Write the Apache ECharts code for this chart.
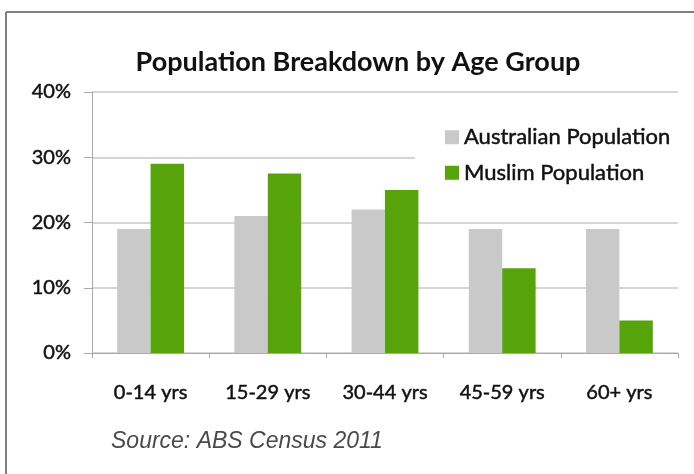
<!DOCTYPE html>
<html><head><meta charset="utf-8">
<script src="https://cdn.jsdelivr.net/npm/echarts@6/dist/echarts.min.js"></script>
<style>html,body{margin:0;padding:0;background:#fff}#c{width:694px;height:474px}</style>
</head><body><div id="c"></div>
<script>
const categories = ['0-14 yrs','15-29 yrs','30-44 yrs','45-59 yrs','60+ yrs'];
const australian = [19, 21, 22, 19, 19];
const muslim = [29, 27.5, 25, 13, 5];
const yTicks = [0, 10, 20, 30, 40];
const titleText = 'Population Breakdown by Age Group';
const sourceText = 'Source: ABS Census 2011';
const seriesNames = ['Australian Population', 'Muslim Population'];

const font = 'Lato';
const thick = {textBorderColor:'#1a1a1a', textBorderWidth:0.5};
const chart = echarts.init(document.getElementById('c'), null, {renderer:'canvas'});
chart.setOption({
  animation:false,
  backgroundColor:'#fff',
  title:{text:titleText, left:353, top:44, textAlign:'center',
    textStyle:{fontFamily:font, fontWeight:'bold', fontSize:27, color:'#111'}},
  graphic:[
    {type:'line', shape:{x1:6, y1:12, x2:694, y2:12}, style:{stroke:'#7d8087', lineWidth:2}},
    {type:'line', shape:{x1:6, y1:12, x2:6, y2:474}, style:{stroke:'#7d8087', lineWidth:2}},
    {type:'text', left:111, top:430, style:{text:sourceText, fontFamily:'Liberation Sans', fontStyle:'italic', fontSize:23, fill:'#4a4a4a'}}
  ],
  legend:{orient:'vertical', left:415, top:122, itemWidth:14, itemHeight:14, itemGap:13,
    backgroundColor:'#fff', padding:[4,10,4,30],
    textStyle:Object.assign({fontFamily:font, fontSize:22, color:'#111'}, thick),
    icon:'rect', data:seriesNames},
  grid:{left:92, right:16, top:92, bottom:121},
  xAxis:{type:'category', data:categories,
    axisLine:{lineStyle:{color:'#aaa'}},
    axisTick:{show:true, length:5, lineStyle:{color:'#aaa'}},
    axisLabel:Object.assign({fontFamily:font, fontSize:20, color:'#111', margin:30}, thick)},
  yAxis:{type:'value', min:yTicks[0], max:yTicks[yTicks.length-1], interval:10,
    axisLine:{show:true, lineStyle:{color:'#aaa'}},
    axisTick:{show:true, length:8, lineStyle:{color:'#aaa'}},
    splitLine:{lineStyle:{color:'#c8c8c8', width:1.5}},
    axisLabel:Object.assign({fontFamily:font, fontSize:20, color:'#111', margin:21,
      formatter:v=>v+'%'}, thick)},
  series:[
    {name:seriesNames[0], type:'bar', data:australian, barGap:'0%', barCategoryGap:'43%',
     itemStyle:{color:'#c9c9c9'}},
    {name:seriesNames[1], type:'bar', data:muslim, barGap:'0%', barCategoryGap:'43%',
     itemStyle:{color:'#56a40a'}}
  ]
});
</script></body></html>
